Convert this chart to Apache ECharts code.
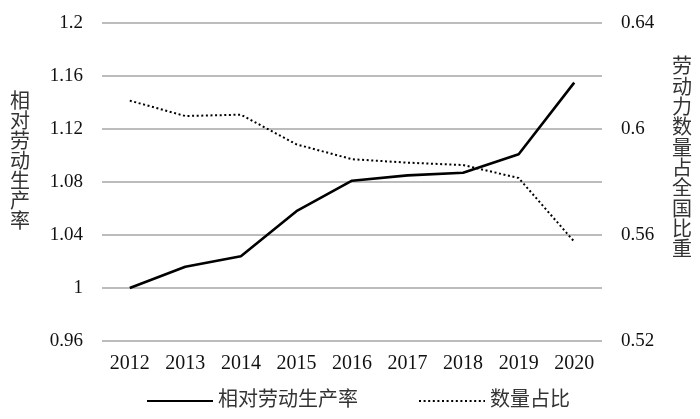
<!DOCTYPE html>
<html>
<head>
<meta charset="utf-8">
<script src="https://cdn.jsdelivr.net/npm/echarts@6/dist/echarts.min.js"></script>
<style>html,body{margin:0;padding:0;background:#fff}#c{width:700px;height:419px}</style>
</head>
<body>
<div id="c"></div>
<script>
const years = ['2012','2013','2014','2015','2016','2017','2018','2019','2020'];
const productivity = [1.000, 1.016, 1.024, 1.058, 1.081, 1.085, 1.087, 1.101, 1.155];
const share = [0.6107, 0.6049, 0.6054, 0.5942, 0.5886, 0.5873, 0.5864, 0.5815, 0.5575];
const seriesNames = ['相对劳动生产率', '数量占比'];
const leftName = '相对劳动生产率';
const rightName = '劳动力数量占全国比重';

const FONT = '"Liberation Serif", "Noto Sans CJK SC", serif';
const chart = echarts.init(document.getElementById('c'), null, {renderer: 'canvas'});
chart.setOption({
  animation: false,
  backgroundColor: '#fff',
  textStyle: {fontFamily: FONT, color: '#111'},
  grid: {left: 102, right: 98, top: 23, bottom: 78},
  legend: {
    left: 146, top: 391, padding: 0,
    itemWidth: 66, itemHeight: 14, itemGap: 60,
    itemStyle: {opacity: 0},
    textStyle: {fontFamily: FONT, fontSize: 20, color: '#333'},
    data: seriesNames
  },
  xAxis: {
    type: 'category', data: years, boundaryGap: true,
    axisLine: {show: false}, axisTick: {show: false},
    axisLabel: {fontFamily: FONT, fontSize: 20, color: '#111', margin: 13}
  },
  yAxis: [
    {
      type: 'value', min: 0.96, max: 1.2, interval: 0.04,
      axisLine: {show: false}, axisTick: {show: false},
      axisLabel: {fontFamily: FONT, fontSize: 19, color: '#111', margin: 19},
      splitLine: {show: true, lineStyle: {color: '#a6a6a6', width: 1.5}}
    },
    {
      type: 'value', min: 0.52, max: 0.64, interval: 0.04,
      axisLine: {show: false}, axisTick: {show: false},
      axisLabel: {fontFamily: FONT, fontSize: 19, color: '#111', margin: 19},
      splitLine: {show: false}
    }
  ],
  graphic: [
    {type: 'text', left: 10, top: 93, style: {text: leftName.split('').join('\n'), font: '20px ' + FONT, lineHeight: 20, fill: '#333'}},
    {type: 'text', left: 672, top: 58, style: {text: rightName.split('').join('\n'), font: '20px ' + FONT, lineHeight: 20.3, fill: '#333'}}
  ],
  series: [
    {
      name: seriesNames[0], type: 'line', yAxisIndex: 0, data: productivity,
      symbol: 'none', smooth: false,
      lineStyle: {color: '#000', width: 2.6, type: 'solid'},
      itemStyle: {color: '#000'}
    },
    {
      name: seriesNames[1], type: 'line', yAxisIndex: 1, data: share,
      symbol: 'none', smooth: false,
      lineStyle: {color: '#000', width: 2, type: [2, 2.6]},
      itemStyle: {color: '#000'}
    }
  ]
});
</script>
</body>
</html>
